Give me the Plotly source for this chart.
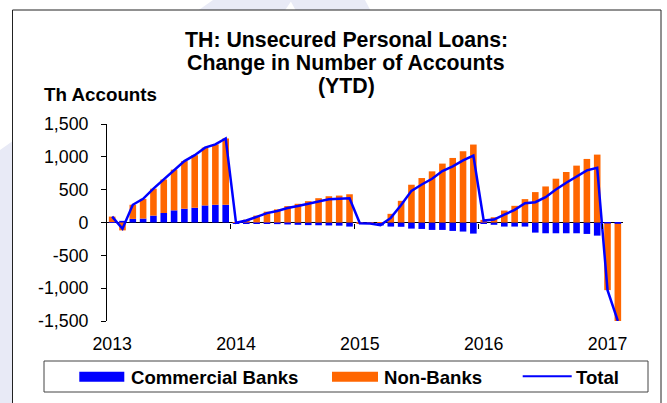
import plotly.graph_objects as go

# ---------------- data ----------------
categories = [
    "Jan-13", "Feb-13", "Mar-13", "Apr-13", "May-13", "Jun-13", "Jul-13", "Aug-13", "Sep-13", "Oct-13", "Nov-13", "Dec-13",
    "Jan-14", "Feb-14", "Mar-14", "Apr-14", "May-14", "Jun-14", "Jul-14", "Aug-14", "Sep-14", "Oct-14", "Nov-14", "Dec-14",
    "Jan-15", "Feb-15", "Mar-15", "Apr-15", "May-15", "Jun-15", "Jul-15", "Aug-15", "Sep-15", "Oct-15", "Nov-15", "Dec-15",
    "Jan-16", "Feb-16", "Mar-16", "Apr-16", "May-16", "Jun-16", "Jul-16", "Aug-16", "Sep-16", "Oct-16", "Nov-16", "Dec-16",
    "Jan-17", "Feb-17",
]

commercial_banks = [
    5, 25, 55, 60, 105, 145, 185, 210, 225, 260, 270, 270,
    -10, -12, -20, -22, -25, -30, -35, -40, -42, -45, -48, -62,
    -5, -20, -45, -62, -65, -93, -98, -113, -113, -128, -138, -169,
    -10, -35, -62, -62, -62, -154, -164, -164, -164, -164, -174, -200,
    -15, -20,
]

non_banks = [
    85, -120, 215, 300, 410, 510, 620, 725, 800, 880, 920, 1010,
    5, 42, 105, 165, 200, 250, 285, 325, 370, 400, 410, 430,
    -5, 5, 5, 132, 330, 575, 677, 779, 897, 983, 1085, 1187,
    40, 80, 182, 254, 356, 463, 549, 667, 769, 866, 968, 1034,
    -1015, -1480,
]

total = [
    90, -95, 270, 360, 515, 655, 805, 935, 1025, 1140, 1190, 1280,
    -5, 30, 85, 143, 175, 220, 250, 285, 328, 355, 362, 368,
    -10, -15, -40, 70, 265, 482, 579, 666, 784, 855, 947, 1018,
    30, 45, 120, 192, 294, 309, 385, 503, 605, 702, 794, 834,
    -1030, -1500,
]

year_tick_categories = ["Jan-13", "Jan-14", "Jan-15", "Jan-16", "Jan-17"]
year_tick_labels = ["2013", "2014", "2015", "2016", "2017"]
year_boundaries = [11.5, 23.5, 35.5, 47.5]

y_tick_values = [-1500, -1000, -500, 0, 500, 1000, 1500]
y_tick_labels = ["-1,500", "-1,000", "-500", "0", "500", "1,000", "1,500"]

title_lines = ["TH: Unsecured Personal Loans:", "Change in Number of Accounts", "(YTD)"]
y_axis_title = "Th Accounts"
series_names = ["Commercial Banks", "Non-Banks", "Total"]

# ---------------- styling / layout ----------------
W, H = 667, 403
ML, MR, MT, MB = 107, 44, 124, 82
PW, PH = W - ML - MR, H - MT - MB
FONT = "Liberation Sans, Arial, sans-serif"
BLUE = "#0000FF"
ORANGE = "#FF6600"


def xp(px):
    return (px - ML) / PW


def yp(py):
    return (H - MB - py) / PH


fig = go.Figure()
fig.add_trace(go.Bar(x=categories, y=commercial_banks, name=series_names[0],
                     marker=dict(color=BLUE, line=dict(width=0))))
fig.add_trace(go.Bar(x=categories, y=non_banks, name=series_names[1],
                     marker=dict(color=ORANGE, line=dict(width=0))))
fig.add_trace(go.Scatter(x=categories, y=total, name=series_names[2], mode="lines",
                         line=dict(color=BLUE, width=2.5)))
# helper trace so the boundary-tick axis (x2) is drawn
fig.add_trace(go.Scatter(x=[None], y=[None], xaxis="x2", yaxis="y", showlegend=False,
                         hoverinfo="skip", mode="markers"))

shapes = []
# faint watermark outside the chart frame
wm = "#E8EAF6"
shapes.append(dict(type="path", xref="paper", yref="paper", layer="below",
                   path=f"M {xp(213)},{yp(0)} L {xp(292)},{yp(0)} L {xp(0)},{yp(430)} L {xp(0)},{yp(150)} Z",
                   fillcolor=wm, line=dict(width=0)))
shapes.append(dict(type="path", xref="paper", yref="paper", layer="below",
                   path=f"M {xp(290)},{yp(0)} L {xp(365)},{yp(0)} L {xp(470)},{yp(200)} L {xp(400)},{yp(200)} Z",
                   fillcolor=wm, line=dict(width=0)))
# chart frame
shapes.append(dict(type="rect", xref="paper", yref="paper", layer="below",
                   x0=xp(12.5), x1=xp(661), y0=yp(415), y1=yp(10),
                   fillcolor="white", line=dict(color="#222222", width=1)))
# custom legend
shapes.append(dict(type="rect", xref="paper", yref="paper",
                   x0=xp(44), x1=xp(648), y0=yp(392), y1=yp(361),
                   fillcolor="white", line=dict(color="#444444", width=1)))
shapes.append(dict(type="rect", xref="paper", yref="paper",
                   x0=xp(79.3), x1=xp(124.3), y0=yp(381.7), y1=yp(371.7),
                   fillcolor=BLUE, line=dict(width=0)))
shapes.append(dict(type="rect", xref="paper", yref="paper",
                   x0=xp(332), x1=xp(378), y0=yp(381.7), y1=yp(371.7),
                   fillcolor=ORANGE, line=dict(width=0)))
shapes.append(dict(type="line", xref="paper", yref="paper",
                   x0=xp(522.7), x1=xp(571.7), y0=yp(376.3), y1=yp(376.3),
                   line=dict(color=BLUE, width=2)))

annotations = []
for i, (line, ypix) in enumerate(zip(title_lines, [40, 63, 86])):
    annotations.append(dict(text=f"<b>{line}</b>", xref="paper", yref="paper",
                            x=xp(346), y=yp(ypix), xanchor="center", yanchor="middle",
                            showarrow=False, font=dict(family=FONT, size=21.3, color="black")))
annotations.append(dict(text=f"<b>{y_axis_title}</b>", xref="paper", yref="paper",
                        x=xp(42), y=yp(94), xanchor="left", yanchor="middle",
                        showarrow=False, font=dict(family=FONT, size=18.8, color="black")))
for name, xpix in zip(series_names, [129, 382, 574]):
    annotations.append(dict(text=f"<b>{name}</b>", xref="paper", yref="paper",
                            x=xp(xpix), y=yp(377), xanchor="left", yanchor="middle",
                            showarrow=False, font=dict(family=FONT, size=18.6, color="black")))

fig.update_layout(
    width=W, height=H,
    margin=dict(l=ML, r=MR, t=MT, b=MB, pad=0),
    paper_bgcolor="white", plot_bgcolor="rgba(0,0,0,0)",
    barmode="relative", bargap=0.36,
    showlegend=False,
    font=dict(family=FONT, color="black"),
    xaxis=dict(type="category", categoryorder="array", categoryarray=categories,
               range=[-0.5, len(categories) - 0.5],
               tickvals=year_tick_categories, ticktext=year_tick_labels,
               ticks="", showline=False, showgrid=False, zeroline=False,
               tickfont=dict(family=FONT, size=17.8, color="black"),
               ticklabelstandoff=10),
    xaxis2=dict(type="linear", overlaying="x", anchor="free", position=0.5,
                range=[-0.5, len(categories) - 0.5],
                tickvals=year_boundaries, showticklabels=False,
                ticks="outside", ticklen=5, tickwidth=1, tickcolor="black",
                showline=False, showgrid=False, zeroline=False),
    yaxis=dict(range=[-1500, 1500], tickvals=y_tick_values, ticktext=y_tick_labels,
               showline=True, linecolor="black", linewidth=1,
               ticks="outside", ticklen=5, tickwidth=1, tickcolor="black",
               showgrid=False, zeroline=True, zerolinecolor="black", zerolinewidth=1,
               tickfont=dict(family=FONT, size=17.8, color="black"),
               ticklabelstandoff=9),
    shapes=shapes,
    annotations=annotations,
)

fig.write_html("out.html", config={"displayModeBar": False},
               post_script="document.body.style.margin='0';document.body.style.overflow='hidden';")
